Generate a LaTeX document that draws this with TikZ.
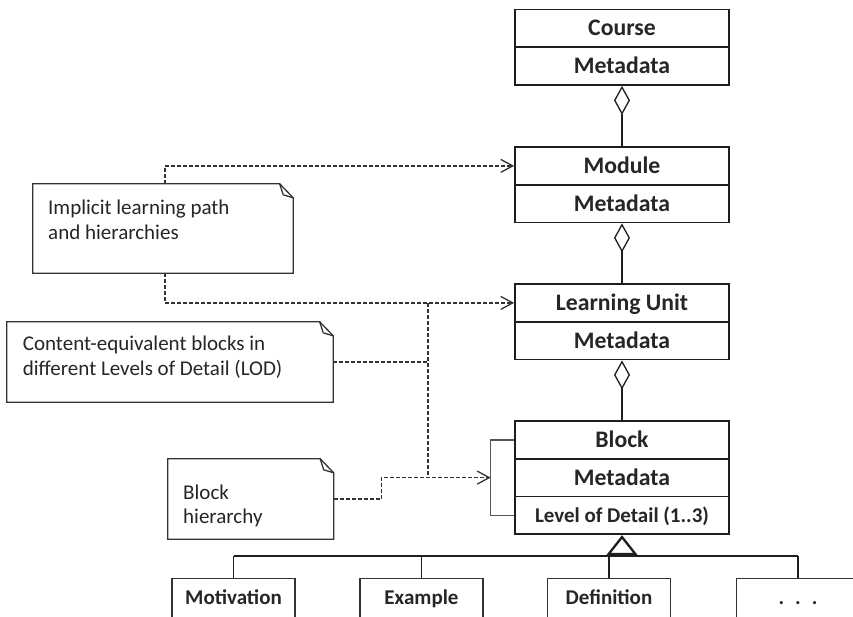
\documentclass[tikz,border=0pt]{standalone}
\usepackage{fontspec}
\setmainfont{Carlito}
\usetikzlibrary{arrows.meta,calc}

\definecolor{ink}{HTML}{1E1E1E}
\definecolor{dline}{HTML}{333333}
\definecolor{gline}{HTML}{555555}
\definecolor{txt}{HTML}{262626}

\tikzset{
  box/.style={draw=ink, line width=1.8pt, minimum width=214pt, minimum height=37.75pt,
    inner sep=0pt, text=txt, font=\fontsize{23.7}{28}\selectfont\bfseries,
    text height=15pt, text depth=0pt},
  smallbox/.style={box, font=\fontsize{21}{25}\selectfont\bfseries, text height=13.3pt},
  childbox/.style={draw=dline, line width=1.3pt, minimum width=123pt, minimum height=38.5pt,
    inner sep=0pt, text=txt, font=\fontsize{21}{25}\selectfont\bfseries,
    text height=13.3pt, text depth=0pt},
  notearea/.style={draw=none, inner sep=0pt},
  notetext/.style={anchor=base west, inner sep=0pt, text=txt},
  aggr/.style={draw=ink, line width=1.3pt, {Diamond[open,length=29pt,width=16pt]}-},
  genline/.style={draw=ink, line width=1.3pt},
  dep/.style={draw=dline, line width=1.3pt, dash pattern=on 4pt off 2pt},
  deparrow/.style={dep, -{Straight Barb[length=12pt,width=13pt,line width=1.3pt]}},
  bracketline/.style={draw=gline, line width=1.3pt},
  noteline/.style={draw=dline, line width=1.3pt, line join=miter},
}

\newcommand\drawnote[1]{%
  \draw[noteline] (#1.north west) -- ([xshift=-13.5pt]#1.north east)
    -- ([yshift=-14pt]#1.north east) -- (#1.south east) -- (#1.south west) -- cycle;
  \draw[noteline] ([xshift=-13.5pt]#1.north east) -- ([xshift=-10pt,yshift=-11pt]#1.north east)
    -- ([yshift=-14pt]#1.north east);}

\begin{document}
\begin{tikzpicture}[x=1pt,y=-1pt]
\useasboundingbox (0,0) rectangle (853,616);
\clip (0,0) rectangle (853,616);
\fill[white] (0,0) rectangle (853,616);

% class boxes
\node[box] (course) at (622,28.4) {Course};
\node[box] (coursemeta) at (622,66.1) {Metadata};
\node[box] (module) at (622,165.9) {Module};
\node[box] (modulemeta) at (622,203.6) {Metadata};
\node[box] (lu) at (622,302.9) {Learning Unit};
\node[box] (lumeta) at (622,340.6) {Metadata};
\node[box] (block) at (622,439.9) {Block};
\node[box] (blockmeta) at (622,477.6) {Metadata};
\node[smallbox] (blocklod) at (622,515.4) {Level of Detail (1..3)};

% aggregations
\draw[aggr] (coursemeta.south) -- (module.north);
\draw[aggr] (modulemeta.south) -- (lu.north);
\draw[aggr] (lumeta.south) -- (block.north);

% subclasses
\node[childbox] (motiv) at (233.5,598) {Motivation};
\node[childbox] (example) at (421.5,598) {Example};
\node[childbox] (defin) at (609,598) {Definition};
\node[childbox] (more) at (798,598) {.\hspace{11pt}.\hspace{11pt}.};

\coordinate (bar) at (622,556);
\draw[genline] (motiv.north |- bar) -- (more.north |- bar);
\draw[genline] (motiv.north |- bar) -- (motiv.north);
\draw[genline] (example.north |- bar) -- (example.north);
\draw[genline] (defin.north |- bar) -- (defin.north);
\draw[genline] (more.north |- bar) -- (more.north);
\draw[draw=ink, line width=2.3pt, {Triangle[open,length=20pt,width=31pt]}-] (blocklod.south) -- (bar);

% block hierarchy bracket
\draw[bracketline] (block.west) -- ++(-23.5,0) |- (blocklod.west);
\coordinate (br) at ($(blockmeta.west)+(-23.5,0)$);

% notes
\node[notearea, minimum width=260pt, minimum height=89pt] (n1) at (163,228.5) {};
\node[notearea, minimum width=326pt, minimum height=80pt] (n2) at (170,362) {};
\node[notearea, minimum width=165.5pt, minimum height=80pt] (n3) at (250.75,499) {};
\drawnote{n1}
\drawnote{n2}
\drawnote{n3}
\node[notetext] (t1) at (48,214) {\fontsize{21}{25}\selectfont\parbox[t]{240pt}{\raggedright Implicit learning path\\and hierarchies}};
\node[notetext] (t2) at (22.7,350.7) {\fontsize{21}{25}\selectfont\parbox[t]{310pt}{\raggedright Content-equivalent blocks in\\different Levels of Detail (LOD)}};
\node[notetext] (t3) at (183,499) {\fontsize{21}{24}\selectfont\parbox[t]{140pt}{\raggedright Block\\hierarchy}};

% dependencies
\coordinate (jx) at (428,303);
\draw[deparrow] ([xshift=2pt]n1.north) |- (module.west);
\draw[deparrow] ([xshift=2pt]n1.south) |- (lu.west);
\draw[dep] (n2.east) -- (n2.east -| jx);
\draw[dep] (jx |- lu.west) -- (jx |- br);
\draw[deparrow] (n3.east) -- ++(47.5,0) |- (br);
\end{tikzpicture}
\end{document}
